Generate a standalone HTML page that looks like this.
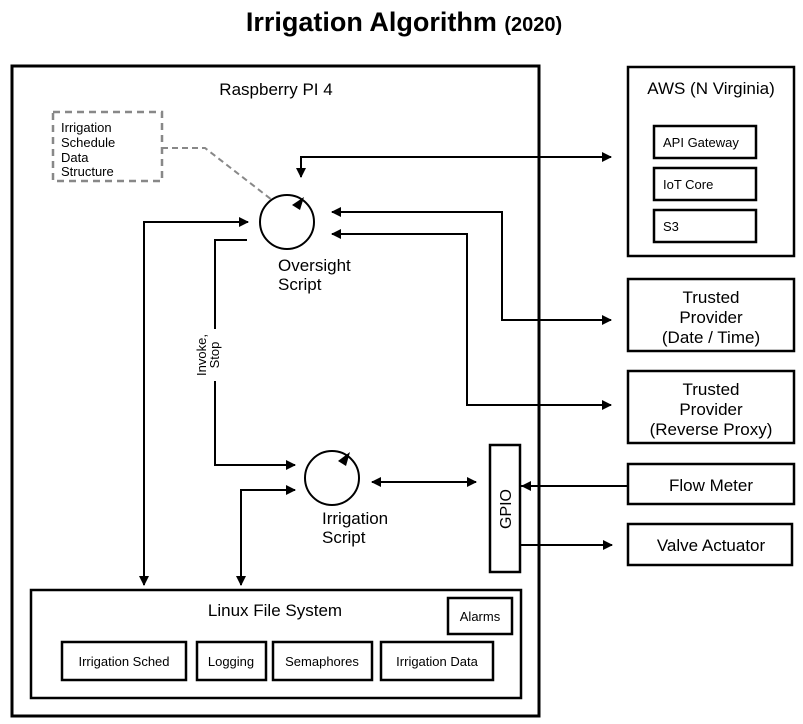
<!DOCTYPE html>
<html><head><meta charset="utf-8"><style>
html,body{margin:0;padding:0;background:#fff;}
svg{display:block;font-family:"Liberation Sans",sans-serif;}
</style></head><body>
<svg width="803" height="724" viewBox="0 0 803 724" xmlns="http://www.w3.org/2000/svg">
<defs>
<marker id="a" markerWidth="10" markerHeight="10" refX="9" refY="5" orient="auto" markerUnits="userSpaceOnUse" viewBox="0 0 10 10">
<path d="M0,0 L10,5 L0,10 z" fill="#000"/></marker>
<marker id="s" markerWidth="10" markerHeight="10" refX="1" refY="5" orient="auto" markerUnits="userSpaceOnUse" viewBox="0 0 10 10">
<path d="M10,0 L0,5 L10,10 z" fill="#000"/></marker>
</defs>
<text x="404" y="31" text-anchor="middle" font-size="27" font-weight="bold">Irrigation Algorithm <tspan font-size="20">(2020)</tspan></text>

<rect x="12" y="66" width="527" height="650" fill="none" stroke="#000" stroke-width="3"/>
<text x="276" y="95" text-anchor="middle" font-size="17">Raspberry PI 4</text>

<rect x="53" y="112" width="109" height="69" fill="none" stroke="#888" stroke-width="2.5" stroke-dasharray="7,5"/>
<g font-size="13"><text x="61" y="132">Irrigation</text><text x="61" y="147">Schedule</text><text x="61" y="162">Data</text><text x="61" y="176">Structure</text></g>
<polyline points="162,148 205,148 272,200" fill="none" stroke="#888" stroke-width="2" stroke-dasharray="6,4"/>

<circle cx="287" cy="222" r="27" fill="none" stroke="#000" stroke-width="2"/>
<path d="M292,205 L304,197 L300,210 z" fill="#000"/>
<text x="278" y="271" font-size="17">Oversight</text>
<text x="278" y="290" font-size="17">Script</text>

<circle cx="332" cy="478" r="27" fill="none" stroke="#000" stroke-width="2"/>
<path d="M338,461 L350,452 L346,466 z" fill="#000"/>
<text x="322" y="524" font-size="17">Irrigation</text>
<text x="322" y="543" font-size="17">Script</text>

<g fill="none" stroke="#000" stroke-width="2">
<polyline points="611,157 301,157 301,177" marker-end="url(#a)"/>
<line x1="310" y1="157" x2="611" y2="157" marker-end="url(#a)"/>
<polyline points="332,212 502,212 502,320 611,320" marker-start="url(#s)" marker-end="url(#a)"/>
<polyline points="332,234 467,234 467,405 611,405" marker-start="url(#s)" marker-end="url(#a)"/>
<polyline points="144,585 144,222 248,222" marker-start="url(#s)" marker-end="url(#a)"/>
<polyline points="247,240 215,240 215,465 295,465" marker-end="url(#a)"/>
<polyline points="241,585 241,490 295,490" marker-start="url(#s)" marker-end="url(#a)"/>
<line x1="372" y1="482" x2="476" y2="482" marker-start="url(#s)" marker-end="url(#a)"/>
<line x1="627" y1="486" x2="522" y2="486" marker-end="url(#a)"/>
<line x1="521" y1="545" x2="612" y2="545" marker-end="url(#a)"/>
</g>
<rect x="196" y="329" width="24" height="52" fill="#fff"/>
<text transform="translate(208,355) rotate(-90)" text-anchor="middle" font-size="13"><tspan x="0" y="-2">Invoke,</tspan><tspan x="0" y="11">Stop</tspan></text>

<rect x="490" y="445" width="30" height="127" fill="#fff" stroke="#000" stroke-width="2.5"/>
<text transform="translate(511,509) rotate(-90)" text-anchor="middle" font-size="16">GPIO</text>
<line x1="520" y1="486" x2="537" y2="486" stroke="#000" stroke-width="2"/>

<g fill="#fff" stroke="#000" stroke-width="2.5">
<rect x="31" y="590" width="490" height="108"/>
<rect x="448" y="598" width="64" height="36"/>
<rect x="62" y="642" width="124" height="38"/>
<rect x="197" y="642" width="69" height="38"/>
<rect x="273" y="642" width="99" height="38"/>
<rect x="381" y="642" width="112" height="38"/>
</g>
<text x="275" y="616" text-anchor="middle" font-size="17">Linux File System</text>
<g font-size="13" text-anchor="middle">
<text x="480" y="621">Alarms</text>
<text x="124" y="666">Irrigation Sched</text>
<text x="231" y="666">Logging</text>
<text x="322" y="666">Semaphores</text>
<text x="437" y="666">Irrigation Data</text>
</g>

<g fill="#fff" stroke="#000" stroke-width="2.5">
<rect x="628" y="67" width="166" height="189"/>
<rect x="654" y="126" width="102" height="32"/>
<rect x="654" y="168" width="102" height="32"/>
<rect x="654" y="210" width="102" height="32"/>
<rect x="628" y="279" width="166" height="72"/>
<rect x="628" y="371" width="166" height="72"/>
<rect x="628" y="464" width="166" height="40"/>
<rect x="628" y="524" width="164" height="41"/>
</g>
<g font-size="17" text-anchor="middle">
<text x="711" y="94">AWS (N Virginia)</text>
<text x="711" y="303">Trusted</text><text x="711" y="323">Provider</text><text x="711" y="343">(Date / Time)</text>
<text x="711" y="395">Trusted</text><text x="711" y="415">Provider</text><text x="711" y="435">(Reverse Proxy)</text>
<text x="711" y="491">Flow Meter</text>
<text x="711" y="551">Valve Actuator</text>
</g>
<g font-size="13">
<text x="663" y="147">API Gateway</text>
<text x="663" y="189">IoT Core</text>
<text x="663" y="231">S3</text>
</g>
</svg>
</body></html>
